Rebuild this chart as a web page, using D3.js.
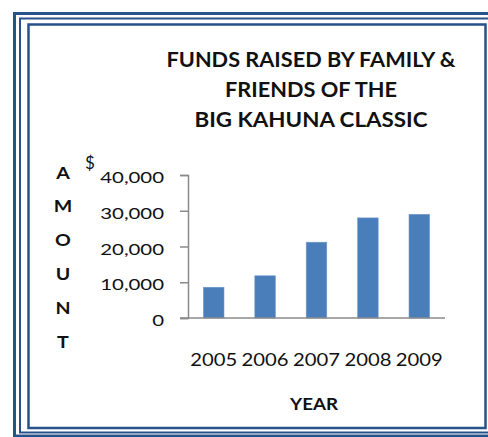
<!DOCTYPE html>
<html>
  <head>
    <script type="text/javascript" src="https://cdn.jsdelivr.net/npm/d3@7"></script>
    <style>
      body { margin: 0; background: #fff; }
      text { font-family: Lato, "Open Sans", sans-serif; fill: #111; }
    </style>
  </head>
<body>
  <script type="text/javascript">
    var w = 488;
    var h = 437;

    // data
    var years = ["2005", "2006", "2007", "2008", "2009"];
    var amounts = [8600, 11800, 21200, 28000, 29000];
    var yTicks = [0, 10000, 20000, 30000, 40000];
    var titleLines = ["FUNDS RAISED BY  FAMILY &", "FRIENDS  OF THE", "BIG KAHUNA CLASSIC"];
    var yLetters = ["A", "M", "O", "U", "N", "T"];

    var plot = {left: 188, right: 445, top: 175, bottom: 318};
    var frameBlue = "#27528a";

    var svg = d3.select("body")
      .append("svg")
      .attr("width", w)
      .attr("height", h);

    // double frame round the chart
    svg.append("rect")
      .attr("x", 14.5).attr("y", 13.5)
      .attr("width", 490).attr("height", 422.5)
      .attr("fill", "none").attr("stroke", frameBlue).attr("stroke-width", 3);
    svg.append("rect")
      .attr("x", 20).attr("y", 18.5)
      .attr("width", 480).attr("height", 414)
      .attr("fill", "none").attr("stroke", frameBlue).attr("stroke-width", 2);
    svg.append("rect")
      .attr("x", 28.5).attr("y", 24.5)
      .attr("width", 457).attr("height", 403.5)
      .attr("fill", "none").attr("stroke", frameBlue).attr("stroke-width", 2.5);

    // title
    var titleWidths = [289, 172, 233];
    svg.selectAll("text.title")
      .data(titleLines)
      .enter()
      .append("text")
      .attr("class", "title")
      .attr("x", 311)
      .attr("y", function (d, i) { return 67 + i * 30; })
      .attr("text-anchor", "middle")
      .attr("font-size", 21)
      .attr("font-weight", "bold")
      .attr("textLength", function (d, i) { return titleWidths[i]; })
      .attr("lengthAdjust", "spacingAndGlyphs")
      .text(function (d) { return d; });

    var x = d3.scaleBand()
      .domain(years)
      .range([plot.left, plot.right])
      .paddingInner(0.6)
      .paddingOuter(0.3);

    var y = d3.scaleLinear()
      .domain([0, 40000])
      .range([plot.bottom, plot.top]);

    // bars
    svg.selectAll("rect.bar")
      .data(amounts)
      .enter()
      .append("rect")
      .attr("class", "bar")
      .attr("x", function (d, i) { return x(years[i]); })
      .attr("y", function (d) { return y(d); })
      .attr("width", x.bandwidth())
      .attr("height", function (d) { return y(0) - y(d); })
      .attr("fill", "#4a7ebb")
      .attr("stroke", "#6f98cc")
      .attr("stroke-width", 0.6);

    // y axis
    var yAxis = svg.append("g")
      .attr("transform", "translate(" + plot.left + ",0)")
      .call(d3.axisLeft(y).tickValues(yTicks).tickFormat(d3.format(",")).tickSize(8).tickPadding(16));
    yAxis.select(".domain").attr("stroke", "#8a8a8a").attr("stroke-width", 1.5);
    yAxis.selectAll(".tick line").attr("stroke", "#8a8a8a").attr("stroke-width", 1.5);
    yAxis.selectAll(".tick text")
      .attr("font-size", 15)
      .attr("font-family", "Lato, sans-serif")
      .attr("fill", "#111")
      .attr("dy", "0.5em")
      .each(function () {
        var t = d3.select(this);
        t.attr("textLength", this.getComputedTextLength() * 1.36)
          .attr("lengthAdjust", "spacingAndGlyphs");
      });

    // x axis
    var xAxis = svg.append("g")
      .attr("transform", "translate(0," + plot.bottom + ")")
      .call(d3.axisBottom(x).tickSize(0).tickPadding(35));
    xAxis.select(".domain")
      .attr("d", "M" + (plot.left - 8) + ",0H" + plot.right)
      .attr("stroke", "#8a8a8a").attr("stroke-width", 1.5);
    xAxis.selectAll(".tick text")
      .attr("font-size", 18)
      .attr("font-family", "Lato, sans-serif")
      .attr("fill", "#111")
      .attr("textLength", 47)
      .attr("lengthAdjust", "spacingAndGlyphs");

    // axis titles
    svg.append("text")
      .attr("x", 314)
      .attr("y", 410)
      .attr("text-anchor", "middle")
      .attr("font-size", 17.5)
      .attr("font-weight", "bold")
      .attr("textLength", 48)
      .attr("lengthAdjust", "spacingAndGlyphs")
      .text("YEAR");

    svg.selectAll("text.ylab")
      .data(yLetters)
      .enter()
      .append("text")
      .attr("class", "ylab")
      .attr("x", 63)
      .attr("y", function (d, i) { return 178.5 + i * 33.8; })
      .attr("text-anchor", "middle")
      .attr("font-size", 17)
      .attr("font-weight", "bold")
      .text(function (d) { return d; })
      .each(function () {
        var t = d3.select(this);
        t.attr("textLength", this.getComputedTextLength() * 1.15)
          .attr("lengthAdjust", "spacingAndGlyphs");
      });

    svg.append("text")
      .attr("x", 90)
      .attr("y", 169)
      .attr("text-anchor", "middle")
      .attr("font-size", 17)
      .text("$");
  </script>
  </body>
</html>
